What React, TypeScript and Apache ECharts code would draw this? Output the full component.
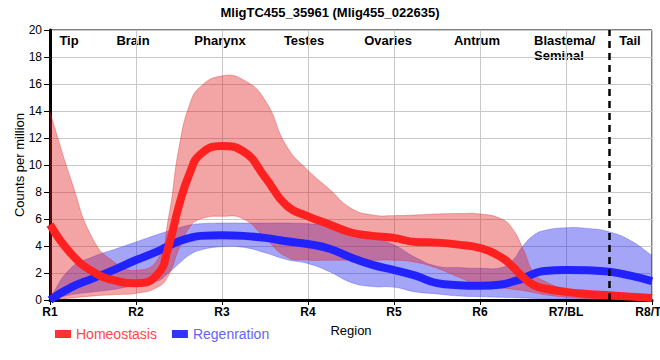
import React, { useEffect, useRef } from "react";
import * as echarts from "echarts";

// x positions in region units (0 = R1 ... 7 = R8)
const X = [0, 0.25, 0.5, 0.75, 1, 1.25, 1.375, 1.5, 1.625, 1.75, 2, 2.25, 2.5, 2.75, 3, 3.25, 3.5, 3.75, 4, 4.25, 4.5, 4.75, 5, 5.25, 5.375, 5.5, 5.625, 5.75, 6, 6.25, 6.5, 6.75, 7];

const regionTicks = ["R1", "R2", "R3", "R4", "R5", "R6", "R7/BL", "R8/TL"];
const regionNames = ["Tip", "Brain", "Pharynx", "Testes", "Ovaries", "Antrum", "Blastema/\nSeminal", "Tail"];

// Homeostasis: mean, upper, lower
const homMean = [5.6, 3.4, 2.1, 1.45, 1.25, 1.9, 3.9, 7.0, 9.4, 10.8, 11.4, 11.0, 9.1, 7.0, 6.2, 5.6, 5.0, 4.75, 4.6, 4.3, 4.25, 4.1, 3.85, 3.15, 2.5, 1.7, 1.1, 0.85, 0.6, 0.45, 0.35, 0.25, 0.15];
const homUpper = [13.9, 8.8, 4.5, 2.8, 2.2, 3.0, 6.0, 11.3, 14.5, 15.8, 16.6, 16.3, 14.8, 11.4, 9.6, 8.2, 6.8, 6.3, 6.25, 6.3, 6.37, 6.4, 6.37, 6.0, 5.3, 3.8, 2.0, 1.4, 0.8, 0.6, 0.45, 0.38, 0.3];
const homLower = [0.0, 0.15, 0.3, 0.4, 0.5, 0.95, 1.8, 3.8, 5.4, 6.0, 6.2, 6.0, 4.6, 3.2, 2.96, 2.95, 2.95, 2.95, 2.95, 2.8, 2.35, 1.7, 1.1, 0.9, 0.8, 0.7, 0.55, 0.4, 0.2, 0.1, 0.05, 0.02, 0.0];

// Regeneration: mean, upper, lower
const regMean = [0.0, 0.95, 1.6, 2.25, 2.96, 3.6, 4.0, 4.35, 4.6, 4.75, 4.8, 4.75, 4.6, 4.35, 4.15, 3.8, 3.15, 2.6, 2.22, 1.8, 1.25, 1.1, 1.05, 1.15, 1.35, 1.6, 1.95, 2.15, 2.22, 2.2, 2.1, 1.8, 1.4];
const regUpper = [0.2, 2.4, 3.2, 3.75, 4.3, 4.85, 5.1, 5.35, 5.55, 5.65, 5.7, 5.7, 5.7, 5.7, 5.65, 5.5, 5.1, 4.6, 4.07, 3.15, 2.5, 2.4, 2.35, 2.4, 2.9, 4.0, 4.8, 5.15, 5.35, 5.3, 5.05, 4.4, 3.3];
const regLower = [0.0, 0.4, 0.6, 0.8, 1.1, 1.4, 2.0, 2.7, 3.35, 3.7, 3.95, 3.9, 3.5, 3.0, 2.7, 2.1, 1.3, 1.0, 0.95, 0.6, 0.45, 0.3, 0.25, 0.2, 0.18, 0.15, 0.12, 0.1, 0.1, 0.08, 0.07, 0.05, 0.05];

const FONT = "'Liberation Sans', Arial, sans-serif";

const pairs = (ys: number[]) => X.map((x, i) => [x, ys[i]]);

// sample a smooth curve (cubic bezier through pixel points, ECharts-like control points)
function smoothPts(pts: number[][], s = 0.5, steps = 10): number[][] {
  const out: number[][] = [];
  const n = pts.length;
  const cps: number[][][] = pts.map((p, i) => {
    const prev = pts[Math.max(0, i - 1)];
    const next = pts[Math.min(n - 1, i + 1)];
    const vx = next[0] - prev[0];
    const vy = next[1] - prev[1];
    const dp = Math.hypot(p[0] - prev[0], p[1] - prev[1]);
    const dn = Math.hypot(next[0] - p[0], next[1] - p[1]);
    const tot = dp + dn || 1;
    return [
      [p[0] - vx * s * (dp / tot), p[1] - vy * s * (dp / tot)],
      [p[0] + vx * s * (dn / tot), p[1] + vy * s * (dn / tot)],
    ];
  });
  for (let i = 0; i < n - 1; i++) {
    const p0 = pts[i], p3 = pts[i + 1];
    const p1 = cps[i][1], p2 = cps[i + 1][0];
    for (let k = 0; k < steps; k++) {
      const t = k / steps, u = 1 - t;
      out.push([
        u * u * u * p0[0] + 3 * u * u * t * p1[0] + 3 * u * t * t * p2[0] + t * t * t * p3[0],
        u * u * u * p0[1] + 3 * u * u * t * p1[1] + 3 * u * t * t * p2[1] + t * t * t * p3[1],
      ]);
    }
  }
  out.push(pts[n - 1]);
  return out;
}

function bandSeries(name: string, upper: number[], lower: number[], fill: string, stroke: string) {
  return {
    name,
    type: "custom",
    silent: true,
    data: [[0, 0]],
    renderItem: (_params: any, api: any) => {
      const up = smoothPts(X.map((x, i) => api.coord([x, upper[i]])));
      const lo = smoothPts(X.map((x, i) => api.coord([x, lower[i]])));
      return {
        type: "group",
        children: [
          { type: "polygon", shape: { points: up.concat(lo.slice().reverse()) }, style: { fill, stroke: "none" } },
          { type: "polyline", shape: { points: up }, style: { fill: "none", stroke, lineWidth: 0.8 } },
          { type: "polyline", shape: { points: lo }, style: { fill: "none", stroke, lineWidth: 0.8 } },
        ],
      };
    },
  };
}

export default function App() {
  const ref = useRef<HTMLDivElement>(null);
  useEffect(() => {
    if (!ref.current) return;
    const chart = echarts.init(ref.current, null, { renderer: "svg" });
    const labelPos = [69, 133, 220, 304, 388, 477, 534, 630];
    const option: any = {
      animation: false,
      backgroundColor: "#fff",
      title: {
        text: "MligTC455_35961 (Mlig455_022635)",
        left: "center",
        top: 1,
        textStyle: { fontFamily: FONT, fontSize: 13, fontWeight: "bold", color: "#000" },
      },
      grid: {
        left: 50, right: 8, top: 30, bottom: 60, show: true, borderColor: "#000", borderWidth: 1,
        outerBoundsMode: "none", containLabel: false,
      },
      legend: {
        left: 50,
        top: 322,
        icon: "rect",
        itemWidth: 16,
        itemHeight: 8,
        itemGap: 15,
        textStyle: { fontFamily: FONT, fontSize: 14 },
        data: [
          { name: "Homeostasis", itemStyle: { color: "#ff3333" }, textStyle: { color: "#ff4848" } },
          { name: "Regenration", itemStyle: { color: "#3333ff" }, textStyle: { color: "#6464f5" } },
        ],
      },
      xAxis: {
        type: "value",
        min: 0,
        max: 7,
        interval: 1,
        name: "Region",
        nameLocation: "middle",
        nameGap: 24,
        nameMoveOverlap: false,
        nameTextStyle: { fontFamily: FONT, fontSize: 13, color: "#000" },
        axisLine: { lineStyle: { color: "#000", width: 3 } },
        axisTick: { show: true, length: 5, lineStyle: { color: "#000", width: 1 } },
        axisLabel: {
          fontFamily: FONT,
          fontSize: 12,
          fontWeight: "bold",
          color: "#000",
          margin: 6,
          hideOverlap: false,
          formatter: (v: number) => regionTicks[Math.round(v)] ?? "",
        },
        splitLine: { show: true, lineStyle: { color: "#c8c8c8", width: 1 } },
      },
      yAxis: {
        type: "value",
        min: 0,
        max: 20,
        interval: 2,
        name: "Counts per million",
        nameLocation: "middle",
        nameGap: 24,
        nameMoveOverlap: false,
        nameTextStyle: { fontFamily: FONT, fontSize: 13, color: "#000" },
        axisLine: { show: true, lineStyle: { color: "#000", width: 3 } },
        axisTick: { show: true, length: 6, lineStyle: { color: "#000", width: 1 } },
        axisLabel: { fontFamily: FONT, fontSize: 12, color: "#000", margin: 8 },
        splitLine: { show: true, lineStyle: { color: "#c8c8c8", width: 1 } },
      },
      series: [
        bandSeries("regBand", regUpper, regLower, "rgba(30,30,235,0.4)", "rgba(70,70,235,0.45)"),
        {
          name: "Regenration", type: "line", smooth: 0.5, symbol: "none",
          data: pairs(regMean), lineStyle: { width: 8, color: "#2222ff" }, itemStyle: { color: "#2222ff" },
        },
        bandSeries("homBand", homUpper, homLower, "rgba(225,30,30,0.4)", "rgba(225,40,40,0.45)"),
        {
          name: "Homeostasis", type: "line", smooth: 0.5, symbol: "none",
          data: pairs(homMean), lineStyle: { width: 8, color: "#ff2020" }, itemStyle: { color: "#ff2020" },
          markLine: {
            silent: true,
            symbol: "none",
            label: { show: false },
            lineStyle: { color: "#000", width: 2.5, type: [7, 5] },
            data: [{ xAxis: 6.5 }],
          },
        },
      ],
      graphic: regionNames.map((t, i) => ({
        type: "text",
        x: labelPos[i],
        y: 33,
        silent: true,
        style: {
          text: t,
          font: `bold 13px ${FONT}`,
          fill: "#000",
          align: i === 6 ? "left" : "center",
          textAlign: i === 6 ? "left" : "center",
          verticalAlign: "top",
          textVerticalAlign: "top",
          lineHeight: 15,
        },
      })),
    };
    chart.setOption(option);
    return () => chart.dispose();
  }, []);
  return <div ref={ref} style={{ position: "fixed", left: 0, top: 0, width: 660, height: 360 }} />;
}
